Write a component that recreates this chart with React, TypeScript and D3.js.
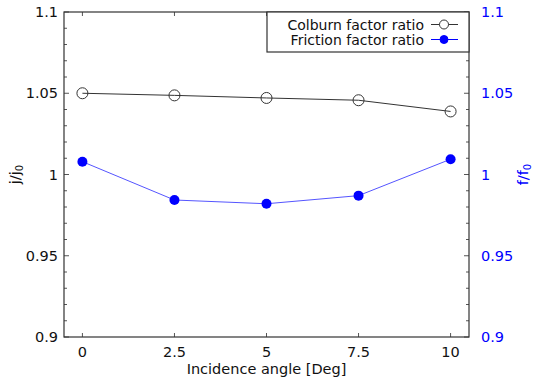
import React, { useEffect, useRef } from 'react';
import * as d3 from 'd3';

// Incidence angle [Deg]
const angles = [0, 2.5, 5, 7.5, 10];
// j/j0
const colburnRatio = [1.05, 1.0487, 1.0471, 1.0457, 1.0388];
// f/f0
const frictionRatio = [1.0079, 0.9843, 0.982, 0.987, 1.0094];

const xTicks = [0, 2.5, 5, 7.5, 10];
const yTicks = [0.9, 0.95, 1, 1.05, 1.1];

const App = () => {
  const ref = useRef<SVGSVGElement>(null);

  useEffect(() => {
    const svg = d3.select(ref.current);
    svg.selectAll('*').remove();

    const width = 534;
    const height = 381;
    const margin = { top: 12, right: 65, bottom: 44, left: 64 };
    const innerWidth = width - margin.left - margin.right;
    const innerHeight = height - margin.top - margin.bottom;
    const font = 'DejaVu Sans, Verdana, sans-serif';
    const fs = 14.5;
    const frame = '#333';

    const x = d3.scaleLinear().domain([-0.5, 10.5]).range([0, innerWidth]);
    const yL = d3.scaleLinear().domain([0.9, 1.1]).range([innerHeight, 0]);
    const yR = d3.scaleLinear().domain([0.9, 1.1]).range([innerHeight, 0]);

    svg.append('rect').attr('width', width).attr('height', height).attr('fill', '#fff');

    const g = svg.append('g').attr('transform', `translate(${margin.left},${margin.top})`);

    // minor ticks every 0.01 on both vertical axes
    const minor = d3.range(0.9, 1.1001, 0.01);
    const ticks = g.append('g').attr('stroke', '#555').attr('stroke-width', 1);
    minor.forEach(v => {
      const major = yTicks.some(t => Math.abs(t - v) < 1e-6);
      const len = major ? 5 : 3;
      ticks.append('line').attr('x1', 0).attr('x2', len)
        .attr('y1', yL(v)).attr('y2', yL(v));
      ticks.append('line').attr('x1', innerWidth).attr('x2', innerWidth - len)
        .attr('y1', yR(v)).attr('y2', yR(v));
    });
    xTicks.forEach(v => {
      ticks.append('line').attr('x1', x(v)).attr('x2', x(v))
        .attr('y1', innerHeight).attr('y2', innerHeight - 4);
      ticks.append('line').attr('x1', x(v)).attr('x2', x(v))
        .attr('y1', 0).attr('y2', 4);
    });

    // frame
    g.append('rect')
      .attr('x', 0).attr('y', 0)
      .attr('width', innerWidth).attr('height', innerHeight)
      .attr('fill', 'none').attr('stroke', frame).attr('stroke-width', 1.2);

    // tick labels
    g.selectAll('.yl').data(yTicks).enter().append('text')
      .attr('x', -6).attr('y', d => yL(d) + 5)
      .attr('text-anchor', 'end').attr('font-family', font).attr('font-size', fs)
      .attr('fill', '#111').text(d => String(d));
    g.selectAll('.yr').data(yTicks).enter().append('text')
      .attr('x', innerWidth + 12).attr('y', d => yR(d) + 5)
      .attr('font-family', font).attr('font-size', fs)
      .attr('fill', '#0000ff').text(d => String(d));
    g.selectAll('.xl').data(xTicks).enter().append('text')
      .attr('x', d => x(d)).attr('y', innerHeight + 20)
      .attr('text-anchor', 'middle').attr('font-family', font).attr('font-size', fs)
      .attr('fill', '#111').text(d => String(d));

    // axis titles
    g.append('text')
      .attr('x', innerWidth / 2).attr('y', innerHeight + 37)
      .attr('text-anchor', 'middle').attr('font-family', font).attr('font-size', fs)
      .attr('fill', '#111').text('Incidence angle [Deg]');

    const yl = g.append('text')
      .attr('transform', `translate(${-44},${innerHeight / 2}) rotate(-90)`)
      .attr('text-anchor', 'middle').attr('font-family', font).attr('font-size', fs)
      .attr('fill', '#111');
    yl.append('tspan').text('j/j');
    yl.append('tspan').attr('font-size', 10).attr('dy', 3).text('0');

    const yr = g.append('text')
      .attr('transform', `translate(${innerWidth + 59},${innerHeight / 2}) rotate(-90)`)
      .attr('text-anchor', 'middle').attr('font-family', font).attr('font-size', fs)
      .attr('fill', '#0000ff');
    yr.append('tspan').text('f/f');
    yr.append('tspan').attr('font-size', 10).attr('dy', 3).text('0');

    // series
    const colburn = angles.map((a, i) => ({ a, v: colburnRatio[i] }));
    const friction = angles.map((a, i) => ({ a, v: frictionRatio[i] }));

    g.append('path').datum(colburn)
      .attr('d', d3.line<{ a: number; v: number }>().x(d => x(d.a)).y(d => yL(d.v)))
      .attr('fill', 'none').attr('stroke', '#333').attr('stroke-width', 1);
    g.selectAll('.cm').data(colburn).enter().append('circle')
      .attr('cx', d => x(d.a)).attr('cy', d => yL(d.v)).attr('r', 5.5)
      .attr('fill', 'none').attr('stroke', '#333').attr('stroke-width', 1);

    g.append('path').datum(friction)
      .attr('d', d3.line<{ a: number; v: number }>().x(d => x(d.a)).y(d => yR(d.v)))
      .attr('fill', 'none').attr('stroke', '#5555ff').attr('stroke-width', 1);
    g.selectAll('.fm').data(friction).enter().append('circle')
      .attr('cx', d => x(d.a)).attr('cy', d => yR(d.v)).attr('r', 5)
      .attr('fill', '#0000ff');

    // legend
    const lg = g.append('g').attr('transform', `translate(${203},0)`);
    lg.append('rect').attr('x', 0).attr('y', 0)
      .attr('width', innerWidth - 203).attr('height', 40)
      .attr('fill', '#fff').attr('stroke', frame).attr('stroke-width', 1.2);
    const items = [
      { label: 'Colburn factor ratio', filled: false, color: '#333' },
      { label: 'Friction factor ratio', filled: true, color: '#0000ff' }
    ];
    items.forEach((it, i) => {
      const cy = 12.5 + i * 15;
      lg.append('text').attr('x', 157).attr('y', cy + 5)
        .attr('text-anchor', 'end').attr('font-family', font).attr('font-size', 14)
        .attr('fill', '#111').text(it.label);
      lg.append('line').attr('x1', 164).attr('x2', 191)
        .attr('y1', cy).attr('y2', cy)
        .attr('stroke', it.filled ? '#0000ff' : '#333').attr('stroke-width', 1);
      lg.append('circle').attr('cx', 177).attr('cy', cy)
        .attr('r', it.filled ? 4 : 4.5)
        .attr('fill', it.filled ? '#0000ff' : '#fff')
        .attr('stroke', it.color).attr('stroke-width', 1);
    });
  }, []);

  return (
    <svg
      ref={ref}
      width={534}
      height={381}
      style={{ position: 'absolute', left: 0, top: 0, display: 'block' }}
    />
  );
};

export default App;
